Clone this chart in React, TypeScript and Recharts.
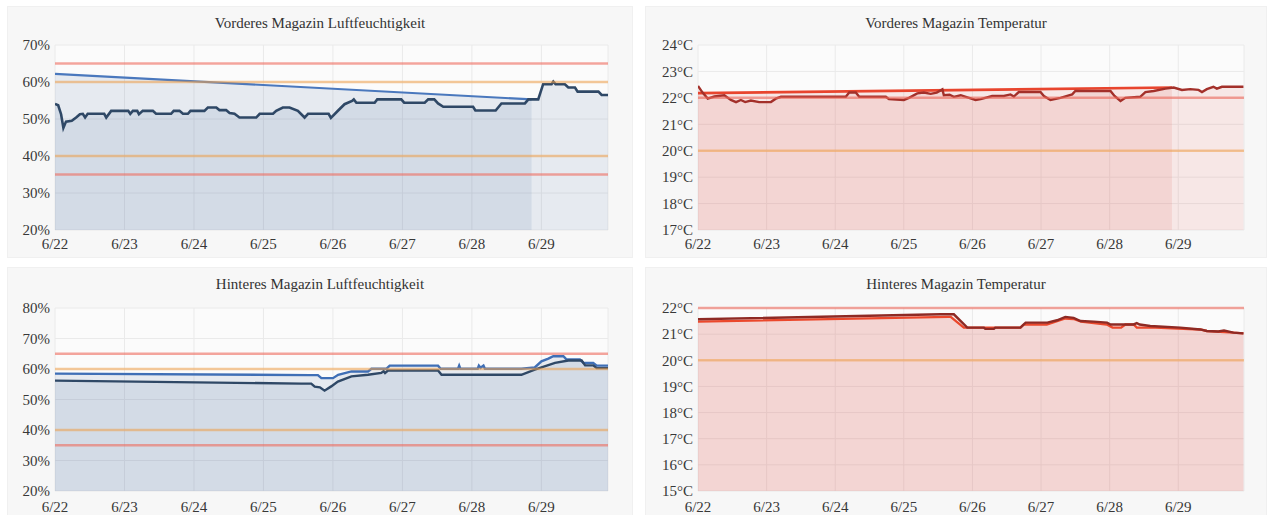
import React from 'react';
import { ComposedChart, Area, XAxis, YAxis, CartesianGrid, ReferenceLine } from 'recharts';

// hours since 6/22 00:00
const dayTicks = [0, 24, 48, 72, 96, 120, 144, 168];
const dayLabels = ['6/22', '6/23', '6/24', '6/25', '6/26', '6/27', '6/28', '6/29'];

// Vorderes Magazin Luftfeuchtigkeit
const frontHumidity: [number, number][] = [
    [0, 54.1], [1.1, 53.7], [2.1, 51.3], [2.9, 47.6], [3.8, 49.3], [5.8, 49.5], [7.3, 50.4], [8.6, 51.3],
    [9.6, 51.4], [10.4, 50.4], [11.3, 51.4], [17.0, 51.4], [17.7, 50.4], [19.4, 52.2], [25.3, 52.2], [26.0, 51.4],
    [26.9, 52.2], [28.4, 52.2], [29.0, 51.3], [30.3, 52.2], [33.8, 52.2], [34.9, 51.4], [40.1, 51.4], [41.0, 52.2],
    [43.0, 52.2], [44.2, 51.4], [45.9, 51.4], [46.8, 52.2], [51.6, 52.2], [52.8, 53.1], [55.7, 53.1], [56.8, 52.4],
    [59.1, 52.4], [60.3, 51.6], [62.0, 51.4], [63.7, 50.4], [69.5, 50.4], [70.7, 51.4], [75.3, 51.4], [76.4, 52.2],
    [78.7, 53.1], [81.0, 53.1], [83.9, 52.2], [86.2, 50.4], [87.4, 51.4], [94.5, 51.4], [95.3, 50.3], [97.8, 52.3],
    [100.0, 54.0], [102.6, 54.9], [103.2, 55.3], [104.1, 54.4], [110.4, 54.4], [111.3, 55.3], [119.6, 55.3], [120.6, 54.4],
    [127.7, 54.4], [128.9, 55.3], [131.0, 55.3], [132.3, 54.2], [134.1, 53.3], [144.4, 53.3], [145.2, 52.3], [152.2, 52.3],
    [154.2, 54.2], [162.3, 54.2], [163.5, 55.3], [166.9, 55.3], [168.6, 59.4], [171.5, 59.4], [172.1, 60.1], [172.9, 59.4],
    [176.1, 59.4], [177.3, 58.5], [179.6, 58.5], [180.5, 57.4], [187.7, 57.4], [188.8, 56.5], [191, 56.5],
];
const frontHumidityTrend: [number, number][] = [[0, 62.2], [164.6, 55.3]];

// Vorderes Magazin Temperatur
const frontTemp: [number, number][] = [
    [0, 22.45], [1.6, 22.2], [3.4, 21.97], [5.7, 22.05], [9.2, 22.1], [11.5, 21.92], [13.3, 21.84], [15, 21.92],
    [16.5, 21.84], [18.5, 21.9], [21.4, 21.84], [25.5, 21.84], [27.2, 21.97], [29, 22.04], [51.7, 22.04], [52.9, 22.2],
    [55.2, 22.2], [56.4, 22.04], [65.7, 22.04], [66.8, 21.95], [72, 21.92], [73.8, 22.0], [76.7, 22.17], [79, 22.2],
    [81.4, 22.15], [83.5, 22.2], [85.5, 22.32], [86, 22.1], [88, 22.12], [89.5, 22.04], [91.9, 22.1], [94.8, 22.0],
    [97.1, 21.92], [98.9, 21.95], [102.9, 22.07], [107, 22.07], [109.3, 22.13], [110.5, 22.05], [112.2, 22.22], [119.8, 22.22],
    [121, 22.07], [123.3, 21.92], [126.8, 22.0], [130.9, 22.13], [132, 22.26], [144.3, 22.26], [145.7, 22.07], [147.8, 21.88],
    [149.5, 22.0], [154.7, 22.04], [156.5, 22.22], [159.4, 22.26], [163.5, 22.35], [166.4, 22.39], [169.3, 22.3], [172.2, 22.33],
    [175.1, 22.3], [176.3, 22.22], [178, 22.33], [180.3, 22.42], [181.5, 22.35], [183.3, 22.42], [190.8, 22.42],
];
const frontTempTrend: [number, number][] = [[0, 22.18], [165.8, 22.39]];

// Hinteres Magazin Luftfeuchtigkeit
const backHumidityA: [number, number][] = [
    [0, 58.5], [88, 58.0], [90.8, 58.0], [92, 57.0], [96, 57.0], [97.8, 58.1], [102.4, 59.2], [108.1, 59.2],
    [109.3, 60.1], [114.5, 60.1], [115.6, 61.1], [132.3, 61.1], [133.2, 60.1], [139.2, 60.1], [139.6, 61.1], [140, 60.1],
    [146, 60.1], [146.4, 61.1], [147, 60.4], [148, 61.1], [148.5, 60.1], [161.1, 60.1], [165.7, 60.5], [168, 62.5],
    [170.4, 63.4], [172.1, 64.2], [175.6, 64.2], [176.7, 63.1], [181.3, 63.1], [182.5, 62.0], [185.9, 62.0], [187.1, 61.1],
    [191, 61.1],
];
const backHumidityB: [number, number][] = [
    [0, 56.2], [85, 55.2], [88.5, 55.2], [89.7, 54.2], [91.5, 54.0], [93.1, 52.9], [95.4, 54.3], [97.7, 55.9],
    [102.4, 57.6], [108.1, 58.1], [112.7, 58.7], [113.5, 59.3], [114, 58.7], [115, 59.5], [132.3, 59.5], [133.5, 58.1],
    [161.1, 58.1], [165.7, 59.8], [172.7, 62.0], [177.3, 62.8], [181.9, 62.8], [183.1, 61.2], [185.9, 61.2], [187.1, 60.3],
    [191, 60.3],
];

// Hinteres Magazin Temperatur
const backTempA: [number, number][] = [
    [0, 21.57], [84.9, 21.76], [89.5, 21.76], [94.2, 21.25], [100, 21.25], [100.5, 21.2], [103.5, 21.2], [104, 21.25],
    [112.8, 21.25], [114.6, 21.44], [122.2, 21.44], [125.6, 21.53], [128.5, 21.66], [131.4, 21.62], [133.8, 21.5], [138.4, 21.48],
    [143.1, 21.44], [144.3, 21.37], [152.4, 21.37], [153.5, 21.42], [154.5, 21.37], [158.2, 21.31], [168.7, 21.25], [175.7, 21.18],
    [178, 21.12], [182, 21.1], [184, 21.14], [187.3, 21.06], [190.8, 21.03],
];
const backTempB: [number, number][] = [
    [0, 21.48], [87.6, 21.66], [88.4, 21.66], [93, 21.25], [112.8, 21.25], [114, 21.37], [122, 21.37], [125.6, 21.5],
    [128.5, 21.6], [131.4, 21.58], [134, 21.48], [143, 21.37], [145, 21.25], [148, 21.25], [149.5, 21.37], [152.4, 21.37],
    [153.5, 21.25], [160, 21.25], [175.7, 21.18], [178, 21.12], [187.3, 21.06], [190.8, 21.03],
];

const humidityTicks = [20, 30, 40, 50, 60, 70];
const humidityTicksBack = [20, 30, 40, 50, 60, 70, 80];
const tempTicksFront = [17, 18, 19, 20, 21, 22, 23, 24];
const tempTicksBack = [15, 16, 17, 18, 19, 20, 21, 22];
const humidityLimits = { red: [65, 35], orange: [60, 40] };
const tempLimits = { red: [22], orange: [20] };

const toRows = (pairs: [number, number][]) => pairs.map(([h, v]) => ({ h, v }));

const FONT = '"Liberation Serif", "Times New Roman", serif';
const RED = '#ee6a5e';
const ORANGE = '#f3a24d';

type SeriesDef = { data: [number, number][]; stroke: string; fill: string; width: number };

interface PanelProps {
    title: string;
    left: number;
    top: number;
    width: number;
    yLeft: number;
    marginTop: number;
    marginRight: number;
    ticks: number[];
    unit: string;
    limits: { red: number[]; orange: number[] };
    series: SeriesDef[];
    xTickMargin: number;
    fillOpacity: number;
}

const Panel: React.FC<PanelProps> = ({ title, left, top, width, yLeft, marginTop, marginRight, ticks, unit, limits, series, xTickMargin, fillOpacity }) => {
    const height = 252;
    return (
        <div style={{ position: 'absolute', left, top, width, height, background: '#f7f7f7', border: '1px solid #f0f0f0', boxSizing: 'border-box' }}>
            <div style={{ position: 'absolute', left: 0, right: 0, top: 8, textAlign: 'center', fontFamily: FONT, fontSize: 15, color: '#333' }}>
                {title}
            </div>
            <ComposedChart width={width} height={height} margin={{ top: marginTop, right: marginRight, left: 0, bottom: 0 }}>
                <CartesianGrid stroke="#eaeaea" fill="#fbfbfb" />
                <XAxis
                    type="number"
                    dataKey="h"
                    domain={[0, 191]}
                    ticks={dayTicks}
                    interval={0}
                    allowDataOverflow
                    height={29}
                    tickLine={false}
                    axisLine={false}
                    tickSize={0}
                    tickMargin={xTickMargin}
                    tickFormatter={(t: number) => dayLabels[dayTicks.indexOf(t)]}
                    tick={{ fill: '#383838', fontSize: 15, fontFamily: FONT }}
                />
                <YAxis
                    type="number"
                    domain={[ticks[0], ticks[ticks.length - 1]]}
                    ticks={ticks}
                    interval={0}
                    width={yLeft}
                    tickLine={false}
                    axisLine={false}
                    tickSize={0}
                    tickMargin={5}
                    tickFormatter={(v: number) => `${v}${unit}`}
                    tick={{ fill: '#383838', fontSize: 15, fontFamily: FONT }}
                />
                {series.map((s, i) => (
                    <Area
                        key={i}
                        data={toRows(s.data)}
                        dataKey="v"
                        type="linear"
                        stroke={s.stroke}
                        strokeWidth={s.width}
                        fill={s.fill}
                        fillOpacity={fillOpacity}
                        dot={false}
                        activeDot={false}
                        isAnimationActive={false}
                    />
                ))}
                {limits.red.map(y => (
                    <ReferenceLine key={`r${y}`} y={y} stroke={RED} strokeOpacity={0.6} strokeWidth={2.5} />
                ))}
                {limits.orange.map(y => (
                    <ReferenceLine key={`o${y}`} y={y} stroke={ORANGE} strokeOpacity={0.55} strokeWidth={2.5} />
                ))}
            </ComposedChart>
        </div>
    );
};

const App: React.FC = () => {
    return (
        <div style={{ position: 'absolute', left: 0, top: 0, width: 1267, height: 515, background: '#fff', overflow: 'hidden' }}>
            <Panel
                title="Vorderes Magazin Luftfeuchtigkeit"
                left={7} top={6} width={626} yLeft={47} marginTop={38} marginRight={26}
                ticks={humidityTicks} unit="%" limits={humidityLimits} xTickMargin={8} fillOpacity={0.1}
                series={[
                    { data: frontHumidityTrend, stroke: '#4a78bd', fill: '#2f5a94', width: 2.2 },
                    { data: frontHumidity, stroke: '#2f4866', fill: '#2f5a94', width: 2.6 },
                ]}
            />
            <Panel
                title="Vorderes Magazin Temperatur"
                left={645} top={6} width={622} yLeft={52} marginTop={38} marginRight={24}
                ticks={tempTicksFront} unit="°C" limits={tempLimits} xTickMargin={8} fillOpacity={0.1}
                series={[
                    { data: frontTempTrend, stroke: '#e8452e', fill: '#dc3f33', width: 2.6 },
                    { data: frontTemp, stroke: '#a3302a', fill: '#dc3f33', width: 2.4 },
                ]}
            />
            <Panel
                title="Hinteres Magazin Luftfeuchtigkeit"
                left={7} top={267} width={626} yLeft={47} marginTop={40} marginRight={26}
                ticks={humidityTicksBack} unit="%" limits={humidityLimits} xTickMargin={10} fillOpacity={0.1}
                series={[
                    { data: backHumidityA, stroke: '#3f6fb6', fill: '#2f5a94', width: 2.4 },
                    { data: backHumidityB, stroke: '#2f4866', fill: '#2f5a94', width: 2.4 },
                ]}
            />
            <Panel
                title="Hinteres Magazin Temperatur"
                left={645} top={267} width={622} yLeft={52} marginTop={40} marginRight={24}
                ticks={tempTicksBack} unit="°C" limits={tempLimits} xTickMargin={10} fillOpacity={0.1}
                series={[
                    { data: backTempB, stroke: '#ee4a2c', fill: '#dc3f33', width: 2.4 },
                    { data: backTempA, stroke: '#8e2a24', fill: '#dc3f33', width: 2.4 },
                ]}
            />
        </div>
    );
};

export default App;
